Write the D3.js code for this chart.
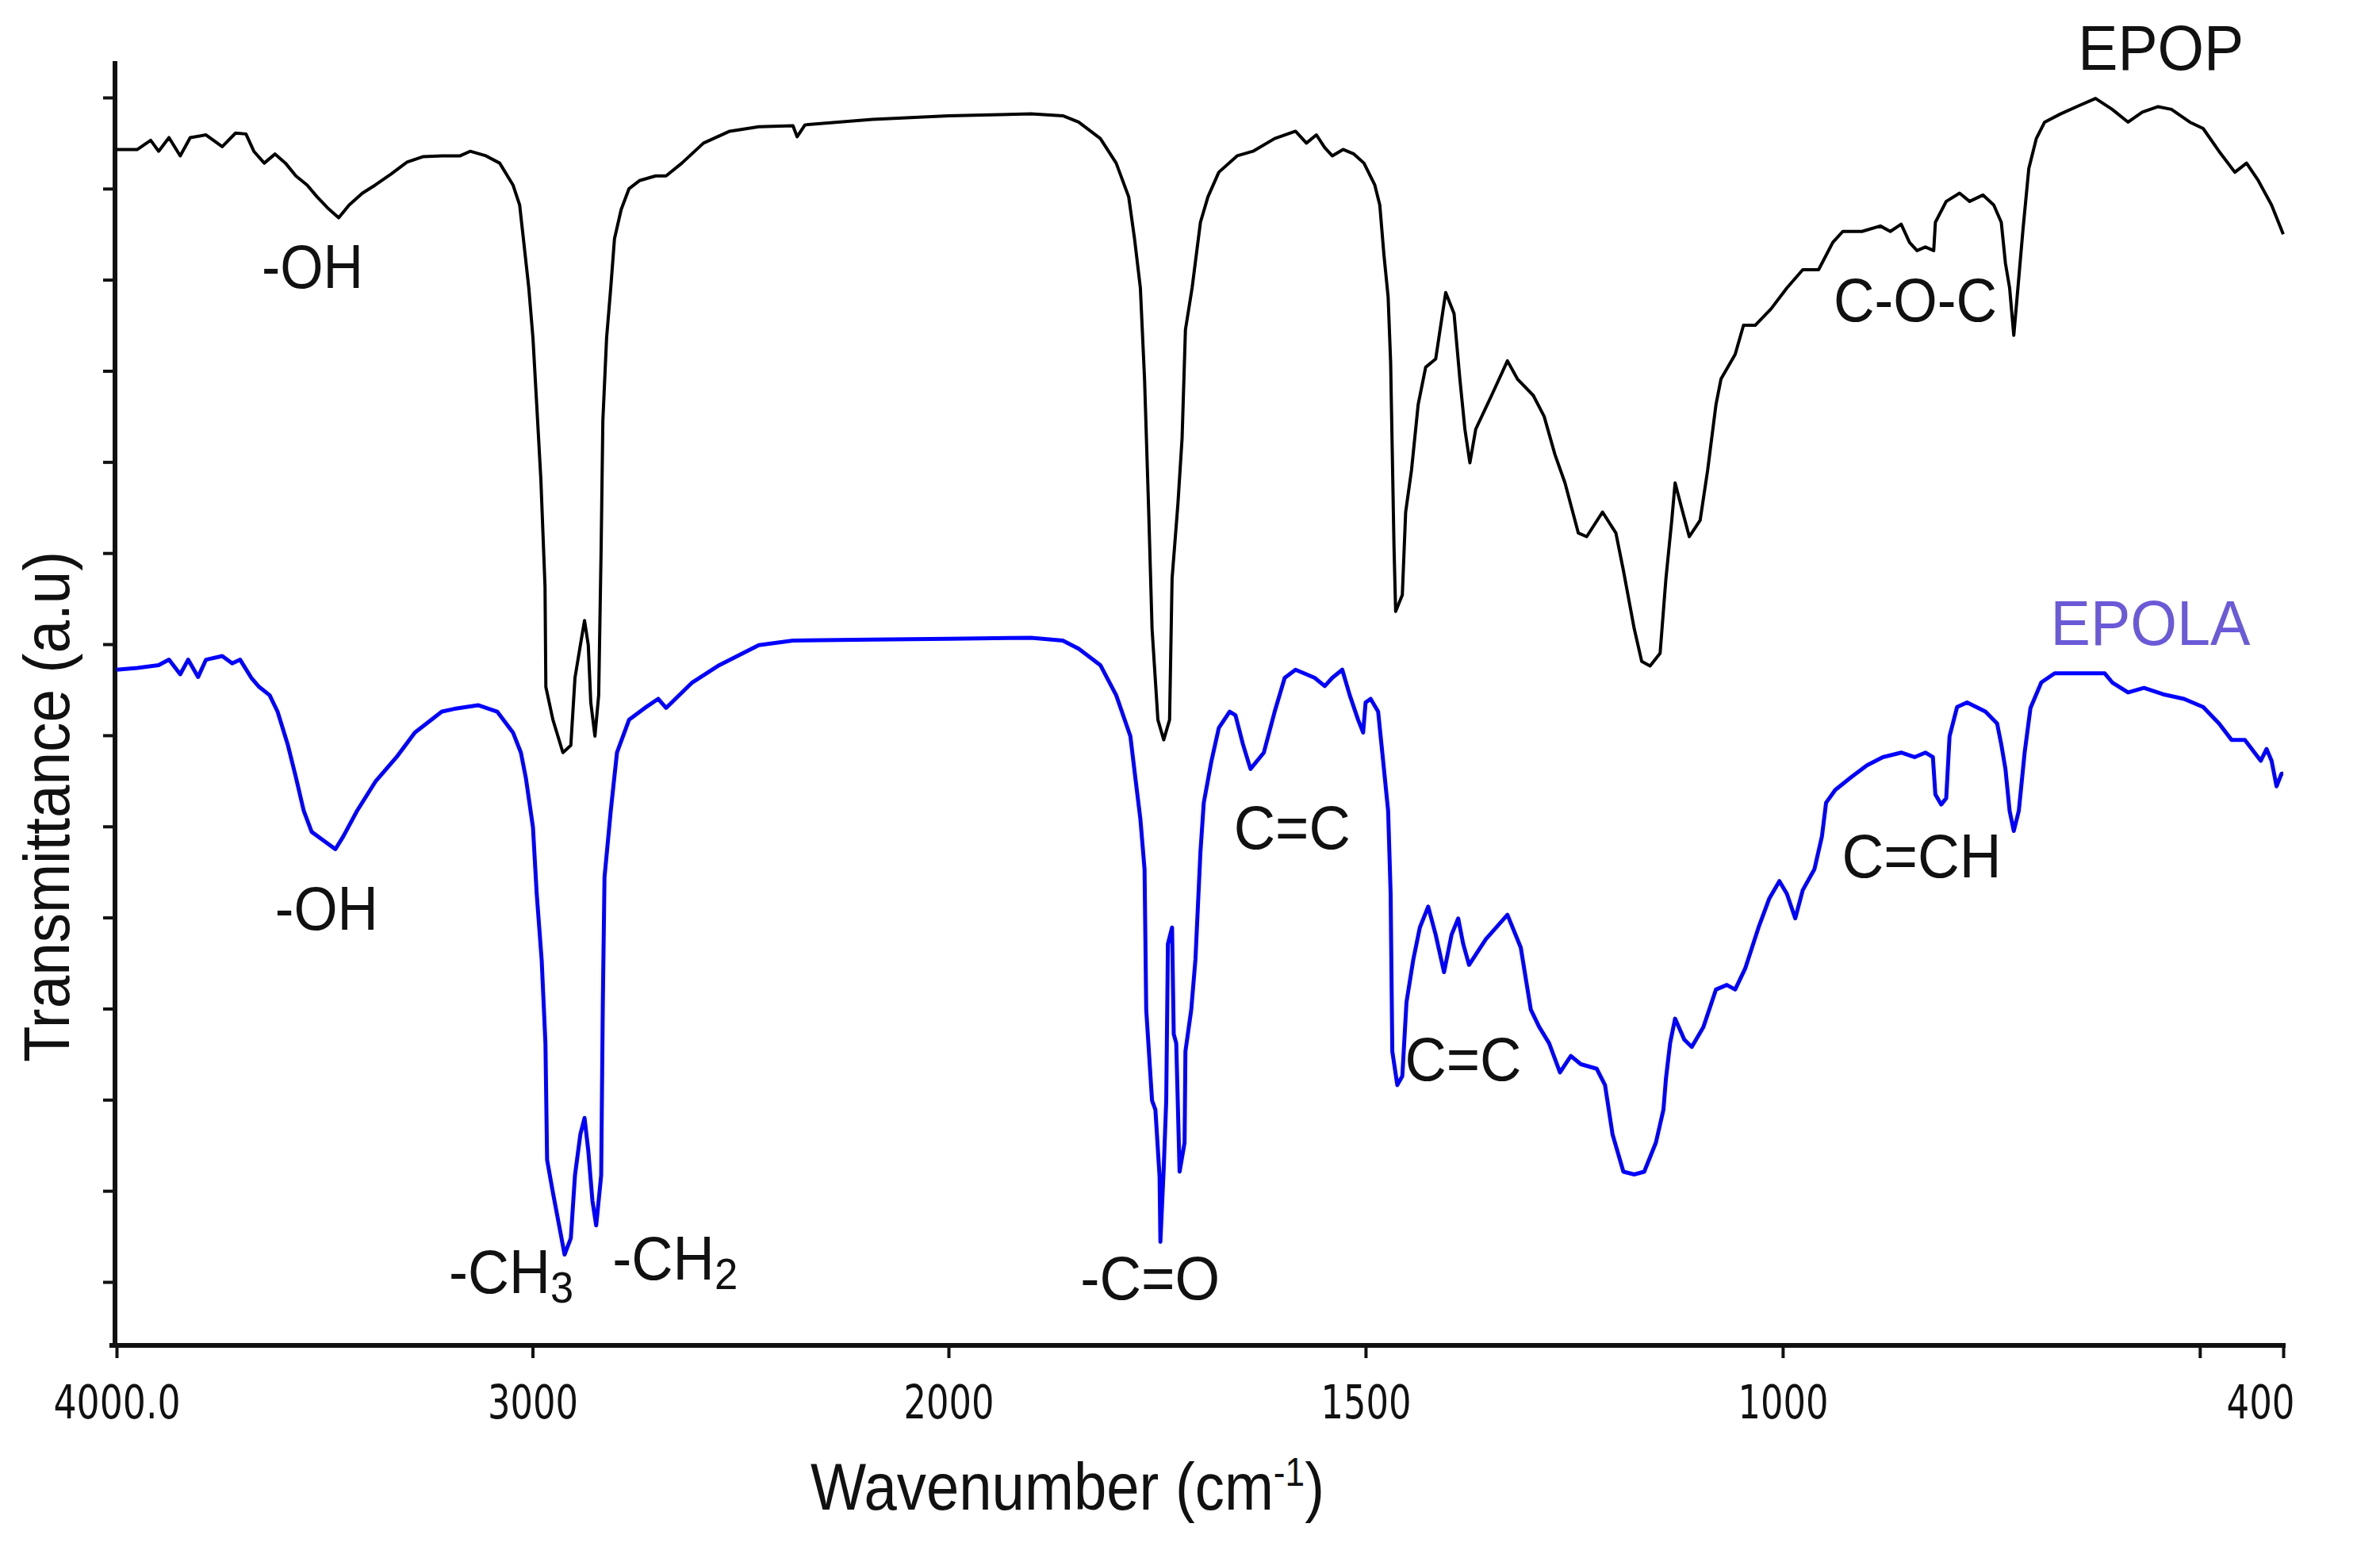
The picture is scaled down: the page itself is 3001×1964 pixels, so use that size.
<!DOCTYPE html>
<html>
<head>
<meta charset="utf-8">
<script src="https://cdn.jsdelivr.net/npm/d3@7"></script>
<style>
html,body{margin:0;padding:0;background:#ffffff;}
svg{display:block;}
</style>
</head>
<body>
<svg id="chart" width="3001" height="1964"></svg>
<script>
// ---------------- DATA ----------------
// EPOP spectrum (wavenumber cm-1, transmittance a.u.)
const epopWn = [4000,3950,3918,3899,3874,3847,3823,3785,3746,3714,3689,3670,3645,3619,3594,3569,3542,3518,3493,3466,3441,3409,3378,3340,3302,3264,3218,3174,3150,3112,3079,3047,3031,3022,3009,2999,2990,2980,2970,2968,2951,2927,2908,2898,2885,2875,2866,2860,2850,2841,2835,2831,2822,2812,2803,2787,2768,2742,2704,2679,2641,2589,2526,2456,2374,2364,2345,2183,2000,1901,1863,1844,1818,1799,1784,1777,1770,1765,1760,1756,1749,1742,1735,1732,1725,1720,1716,1708,1698,1689,1676,1654,1635,1609,1584,1571,1559,1549,1540,1527,1514,1502,1489,1483,1478,1473,1470,1466,1464,1456,1452,1445,1437,1428,1416,1404,1394,1387,1381,1375,1368,1349,1330,1318,1299,1286,1273,1261,1245,1235,1216,1200,1191,1178,1169,1159,1147,1140,1133,1129,1121,1112,1099,1090,1080,1074,1057,1047,1033,1014,995,976,957,940,928,905,883,871,858,848,839,829,819,817,804,788,776,760,747,738,733,728,723,719,712,705,696,686,667,645,625,605,586,569,550,534,512,496,477,458,444,430,414,400];
const epopT = [12.43,12.43,12.53,12.41,12.56,12.36,12.56,12.59,12.46,12.61,12.60,12.41,12.28,12.38,12.28,12.14,12.04,11.91,11.79,11.68,11.82,11.95,12.04,12.16,12.29,12.35,12.36,12.36,12.41,12.36,12.28,12.04,11.82,11.45,10.91,10.36,9.63,8.81,7.63,6.53,6.17,5.81,5.89,6.63,6.99,7.26,6.99,6.36,5.99,6.44,8.08,9.45,10.36,10.91,11.45,11.77,12.00,12.09,12.14,12.14,12.28,12.50,12.63,12.68,12.69,12.57,12.70,12.76,12.80,12.82,12.80,12.73,12.55,12.28,11.91,11.45,10.91,9.91,8.45,7.17,6.17,5.95,6.17,7.72,8.54,9.26,10.45,10.91,11.63,11.91,12.18,12.36,12.41,12.55,12.63,12.50,12.59,12.45,12.36,12.43,12.38,12.28,12.04,11.82,11.27,10.81,10.09,8.08,7.36,7.54,8.45,8.91,9.63,10.04,10.13,10.86,10.63,9.91,9.36,8.99,9.36,9.73,10.11,9.91,9.73,9.50,9.08,8.77,8.22,8.18,8.45,8.22,7.81,7.17,6.81,6.76,6.90,7.72,8.36,8.77,8.49,8.18,8.36,8.91,9.63,9.91,10.18,10.50,10.50,10.68,10.91,11.11,11.11,11.41,11.53,11.53,11.59,11.53,11.61,11.41,11.32,11.36,11.32,11.63,11.86,11.95,11.86,11.93,11.82,11.63,11.18,10.91,10.39,10.81,11.55,12.22,12.55,12.73,12.82,12.91,12.99,12.87,12.73,12.84,12.90,12.87,12.73,12.66,12.41,12.18,12.28,12.09,11.82,11.50];

// EPOLA spectrum (wavenumber cm-1, transmittance a.u.)
const epolaWn = [4000,3950,3899,3874,3847,3828,3804,3785,3746,3722,3703,3676,3657,3632,3613,3588,3569,3550,3531,3504,3474,3455,3422,3378,3327,3283,3218,3188,3131,3085,3047,3028,3016,2999,2990,2978,2969,2965,2951,2932,2923,2908,2898,2885,2875,2866,2856,2847,2835,2831,2827,2812,2797,2768,2730,2698,2679,2616,2551,2456,2374,2183,2000,1901,1863,1844,1818,1799,1782,1776,1770,1765,1763,1756,1752,1747,1746,1742,1739,1737,1732,1730,1727,1723,1717,1716,1709,1704,1698,1694,1685,1676,1663,1656,1647,1638,1622,1609,1597,1584,1571,1561,1549,1540,1528,1519,1509,1503,1500,1494,1485,1480,1473,1470,1468,1462,1456,1451,1443,1435,1425,1416,1406,1397,1389,1383,1376,1356,1330,1314,1302,1292,1280,1267,1254,1242,1223,1213,1204,1191,1178,1166,1152,1143,1140,1135,1129,1118,1109,1095,1080,1067,1057,1045,1029,1016,1004,995,985,976,962,953,948,937,918,899,880,858,842,829,820,817,810,804,800,791,779,757,743,738,733,728,723,717,710,703,690,674,645,614,605,586,567,544,519,496,477,462,446,427,420,414,408,402,400];
const epolaT = [6.72,6.74,6.77,6.83,6.67,6.83,6.64,6.83,6.87,6.79,6.83,6.63,6.53,6.44,6.26,5.89,5.54,5.17,4.94,4.85,4.75,4.89,5.17,5.49,5.76,6.03,6.26,6.29,6.33,6.26,6.03,5.81,5.53,4.99,4.26,3.53,2.62,1.34,0.98,0.52,0.30,0.48,1.17,1.62,1.80,1.44,0.89,0.62,1.17,3.07,4.44,5.17,5.81,6.17,6.30,6.40,6.30,6.58,6.77,6.99,7.04,7.05,7.06,7.07,7.04,6.95,6.77,6.44,5.99,5.53,5.08,4.53,2.99,1.99,1.89,1.16,0.44,1.25,1.99,3.71,3.89,2.72,2.62,1.21,1.53,2.53,2.99,3.54,4.72,5.26,5.71,6.08,6.26,6.22,5.90,5.63,5.81,6.26,6.63,6.72,6.67,6.63,6.54,6.63,6.72,6.44,6.17,6.03,6.36,6.40,6.26,5.81,5.17,4.26,2.53,2.16,2.26,3.07,3.53,3.89,4.12,3.81,3.40,3.81,3.99,3.71,3.48,3.76,4.03,3.67,2.99,2.80,2.62,2.30,2.48,2.39,2.34,2.16,1.62,1.21,1.18,1.21,1.53,1.89,2.23,2.62,2.89,2.66,2.58,2.80,3.21,3.26,3.21,3.44,3.89,4.21,4.40,4.26,3.99,4.30,4.53,4.89,5.26,5.40,5.54,5.67,5.76,5.81,5.76,5.81,5.76,5.35,5.24,5.31,5.99,6.31,6.36,6.26,6.13,5.90,5.63,5.17,4.95,5.17,5.81,6.30,6.58,6.68,6.68,6.68,6.58,6.47,6.52,6.45,6.40,6.31,6.13,5.95,5.95,5.72,5.85,5.72,5.44,5.58,5.58];

// Axis ticks
const xTickValues = [4000, 3000, 2000, 1500, 1000, 500, 400];
const xTickLabels = ["4000.0", "3000", "2000", "1500", "1000", "", "400"];
const yTickValues = [0,1,2,3,4,5,6,7,8,9,10,11,12,13];

// Peak annotations (text, subscript, anchor wavenumber, anchor transmittance)
const annoText = ["-OH", "-OH", "-CH", "-CH", "-C=O", "C=C", "C=C", "C-O-C", "C=CH"];
const annoSub  = ["", "", "3", "2", "", "", "", "", ""];
const annoWn   = [3651, 3619, 3201, 2808, 1842, 1658, 1453, 939, 929];
const annoT    = [10.91, 3.87, -0.12, 0.03, -0.19, 4.75, 2.21, 10.54, 4.44];

// Series labels
const seriesNames = ["EPOP", "EPOLA"];
const seriesLabelWn = [646, 679];
const seriesLabelT  = [13.30, 6.99];

// ---------------- DRAWING ----------------
const svg = d3.select("#chart");
svg.append("rect").attr("width", 3001).attr("height", 1964).attr("fill", "#ffffff");

const x = d3.scaleLinear().domain([4000, 2000, 400]).range([147, 1196, 2879]);
const y = d3.scaleLinear().domain([-0.6966, 13.40]).range([1696, 77]);

const textFont = "'Liberation Sans', Arial, Helvetica, sans-serif";
const ink = "#111111";

// Y axis
const gy = svg.append("g").attr("transform", "translate(145,0)")
  .call(d3.axisLeft(y).tickValues(yTickValues).tickFormat("").tickSizeInner(15).tickSizeOuter(0));
gy.select(".domain").remove();
gy.selectAll(".tick line").attr("stroke", ink).attr("stroke-width", 4);
gy.append("line").attr("x1", 0).attr("x2", 0).attr("y1", y.range()[1]).attr("y2", y.range()[0] + 3)
  .attr("stroke", ink).attr("stroke-width", 6);

// X axis
const gx = svg.append("g").attr("transform", "translate(0,1696)")
  .call(d3.axisBottom(x).tickValues(xTickValues).tickFormat((d, i) => xTickLabels[i])
    .tickSizeInner(16).tickSizeOuter(0));
gx.select(".domain").remove();
gx.append("line").attr("x1", 138).attr("x2", 2882).attr("y1", 0).attr("y2", 0)
  .attr("stroke", ink).attr("stroke-width", 6);
gx.selectAll(".tick line").attr("stroke", ink).attr("stroke-width", 4);
const labelLen = {"4000.0": 160, "3000": 114, "2000": 114, "1500": 114, "1000": 114, "400": 86};
gx.selectAll(".tick text")
  .attr("y", 92).attr("dy", 0)
  .attr("font-family", "'DejaVu Sans Condensed', 'DejaVu Sans', sans-serif")
  .attr("font-size", 58)
  .attr("fill", ink)
  .each(function(d, i) {
    const t = d3.select(this);
    const lbl = xTickLabels[i];
    if (lbl && labelLen[lbl]) {
      t.attr("textLength", labelLen[lbl]).attr("lengthAdjust", "spacingAndGlyphs");
    }
    if (d === 400) { t.attr("text-anchor", "end").attr("x", 14); }
  });

// Spectra
const epopData = epopWn.map((w, i) => ({wn: w, t: epopT[i]}));
const epolaData = epolaWn.map((w, i) => ({wn: w, t: epolaT[i]}));
const line = d3.line().x(d => x(d.wn)).y(d => y(d.t));

svg.append("path").datum(epolaData).attr("d", line)
  .attr("fill", "none").attr("stroke", "#0000ff").attr("stroke-width", 5)
  .attr("stroke-linejoin", "round");
svg.append("path").datum(epopData).attr("d", line)
  .attr("fill", "none").attr("stroke", "#000000").attr("stroke-width", 4)
  .attr("stroke-linejoin", "round");

// Peak annotations
const annoLen = [128, 130, 157, 158, 176, 147, 147, 206, 201];
annoText.forEach((txt, i) => {
  const t = svg.append("text")
    .attr("x", x(annoWn[i])).attr("y", y(annoT[i]))
    .attr("font-family", textFont).attr("font-size", 77).attr("fill", ink)
    .attr("textLength", annoLen[i]).attr("lengthAdjust", "spacingAndGlyphs");
  t.append("tspan").text(txt);
  if (annoSub[i]) {
    t.append("tspan").attr("font-size", 56).attr("dy", 12).text(annoSub[i]);
  }
});

// Series labels
const seriesColor = ["#111111", "#6a5ad8"];
const seriesLen = [209, 252];
seriesNames.forEach((nm, i) => {
  svg.append("text")
    .attr("x", x(seriesLabelWn[i])).attr("y", y(seriesLabelT[i]))
    .attr("font-family", textFont).attr("font-size", 79).attr("fill", seriesColor[i])
    .attr("textLength", seriesLen[i]).attr("lengthAdjust", "spacingAndGlyphs")
    .text(nm);
});

// Axis titles
const xt = svg.append("text")
  .attr("x", 1022).attr("y", 1903)
  .attr("font-family", textFont).attr("font-size", 84).attr("fill", ink)
  .attr("textLength", 648).attr("lengthAdjust", "spacingAndGlyphs");
xt.append("tspan").text("Wavenumber (cm");
xt.append("tspan").attr("font-size", 50).attr("dy", -30).text("-1");
xt.append("tspan").attr("dy", 30).text(")");

svg.append("text")
  .attr("transform", "translate(87,1017) rotate(-90)")
  .attr("text-anchor", "middle")
  .attr("font-family", textFont).attr("font-size", 82).attr("fill", ink)
  .attr("textLength", 644).attr("lengthAdjust", "spacingAndGlyphs")
  .text("Transmittance (a.u)");
</script>
</body>
</html>
